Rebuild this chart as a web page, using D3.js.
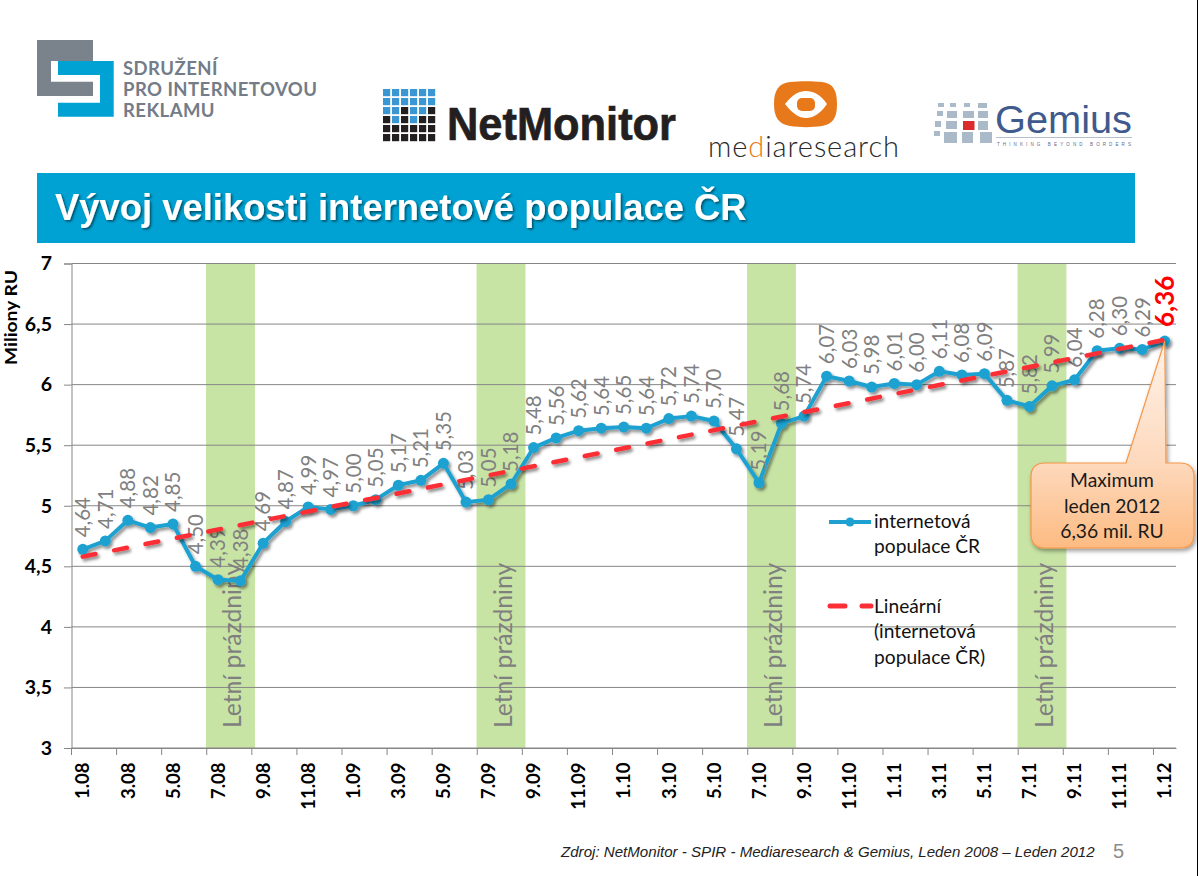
<!DOCTYPE html>
<html>
<head>
<meta charset="utf-8">
<script src="https://cdn.jsdelivr.net/npm/d3@7"></script>
<style>
  html, body { margin: 0; padding: 0; background: #fff; }
  svg { display: block; }
  text { font-family: Lato, sans-serif; }
</style>
</head>
<body>
<div id="chart"></div>
<script>
// chart data
var months = ["1.08","2.08","3.08","4.08","5.08","6.08","7.08","8.08","9.08","10.08","11.08","12.08",
  "1.09","2.09","3.09","4.09","5.09","6.09","7.09","8.09","9.09","10.09","11.09","12.09",
  "1.10","2.10","3.10","4.10","5.10","6.10","7.10","8.10","9.10","10.10","11.10","12.10",
  "1.11","2.11","3.11","4.11","5.11","6.11","7.11","8.11","9.11","10.11","11.11","12.11","1.12"];
var population = [4.64,4.71,4.88,4.82,4.85,4.50,4.39,4.38,4.69,4.87,4.99,4.97,
  5.00,5.05,5.17,5.21,5.35,5.03,5.05,5.18,5.48,5.56,5.62,5.64,
  5.65,5.64,5.72,5.74,5.70,5.47,5.19,5.68,5.74,6.07,6.03,5.98,
  6.01,6.00,6.11,6.08,6.09,5.87,5.82,5.99,6.04,6.28,6.30,6.29,6.36];
var trendMonths = ["1.08","1.12"];
var trendValues = [4.58,6.37];
var xTickLabels = ["1.08","3.08","5.08","7.08","9.08","11.08","1.09","3.09","5.09","7.09","9.09","11.09",
  "1.10","3.10","5.10","7.10","9.10","11.10","1.11","3.11","5.11","7.11","9.11","11.11","1.12"];
var yTicks = [3,3.5,4,4.5,5,5.5,6,6.5,7];
var holidayMonths = ["7.08","7.09","7.10","7.11"];

var svgWidth = 1198;
var svgHeight = 876;
var chartMargin = { top: 263.5, right: 22, bottom: 128, left: 71.5 };
var chartWidth = svgWidth - chartMargin.left - chartMargin.right;
var chartHeight = svgHeight - chartMargin.top - chartMargin.bottom;

var blue = "#1ea1d1";
var red = "#fb2f36";
var gridGray = "#868686";

var svg = d3.select("#chart").append("svg")
  .attr("width", svgWidth)
  .attr("height", svgHeight);

var defs = svg.append("defs");

function addShadow(id, dx, dy, blur, opacity) {
  defs.append("filter").attr("id", id)
    .attr("x", "-10%").attr("y", "-10%").attr("width", "120%").attr("height", "130%")
    .append("feDropShadow")
    .attr("dx", dx).attr("dy", dy).attr("stdDeviation", blur)
    .attr("flood-color", "#000").attr("flood-opacity", opacity);
}
addShadow("lineShadow", 2, 2.5, 1.5, 0.45);
addShadow("titleShadow", 1.5, 1.5, 0.8, 0.55);
addShadow("boxShadow", 1.5, 2.5, 2, 0.4);

var boxFill = defs.append("linearGradient").attr("id", "boxFill")
  .attr("gradientUnits", "userSpaceOnUse")
  .attr("x1", 0).attr("x2", 0).attr("y1", 341).attr("y2", 548);
boxFill.append("stop").attr("offset", "0%").attr("stop-color", "#fff3ea");
boxFill.append("stop").attr("offset", "60%").attr("stop-color", "#fdd8bb");
boxFill.append("stop").attr("offset", "100%").attr("stop-color", "#fdbb82");

// thin black strip on the right edge of the slide
svg.append("rect").attr("x", 1197).attr("y", 0).attr("width", 1).attr("height", svgHeight)
  .attr("fill", "#000");

/* ---- logos ---- */
var logos = svg.append("g");

logos.append("path").attr("fill", "#7a828c")
  .attr("d", "M37,40H93V61H51V81.7H93V96H37Z");
logos.append("path").attr("fill", "#00a2d3")
  .attr("d", "M58,61H113.7V116.7H58V102.7H100V75H58Z");
[["SDRUŽENÍ", 75], ["PRO INTERNETOVOU", 96], ["REKLAMU", 117]].forEach(function (l) {
  logos.append("text").attr("x", 123).attr("y", l[1])
    .attr("font-size", 18.5).attr("font-weight", 700).attr("fill", "#737c87")
    .attr("letter-spacing", 0.45)
    .text(l[0]);
});

// NetMonitor grid, 1 = blue
var netGrid = [
  [1,1,1,1,1,1],
  [1,1,1,1,1,1],
  [1,1,0,1,1,0],
  [0,1,0,1,0,0],
  [0,0,0,0,0,0],
  [0,0,0,0,0,0]
];
netGrid.forEach(function (row, r) {
  row.forEach(function (c, i) {
    logos.append("rect")
      .attr("x", 383 + i * 9).attr("y", 89 + r * 9)
      .attr("width", 7.2).attr("height", 7.2)
      .attr("fill", c ? "#3a97d3" : "#231f20");
  });
});
logos.append("text").attr("x", 447).attr("y", 140)
  .attr("font-size", 46).attr("font-weight", 700).attr("fill", "#231f20")
  .attr("stroke", "#231f20").attr("stroke-width", 0.7)
  .style("font-family", "'Liberation Sans'")
  .attr("textLength", 229).attr("lengthAdjust", "spacingAndGlyphs")
  .text("NetMonitor");

// mediaresearch
logos.append("path").attr("fill", "#e8791a")
  .attr("d", "M790,82C800,81 812,81 822,82C833,83 837,90 837,104C837,118 833,124 822,126C812,127.5 800,127.5 790,126C779,124 774,118 774,104C774,90 779,83 790,82Z");
logos.append("path").attr("fill", "#fff")
  .attr("d", "M785,104C793,94 799,91 806,91C813,91 820,94 827,104C820,114 813,118 806,118C799,118 793,114 785,104Z");
logos.append("rect").attr("x", 797).attr("y", 98).attr("width", 18).attr("height", 13)
  .attr("rx", 5).attr("fill", "#e8791a");
var mediaText = logos.append("text").attr("x", 708).attr("y", 157)
  .attr("font-size", 29).attr("font-weight", 300).attr("fill", "#2a2a2a")
  .attr("textLength", 191).attr("lengthAdjust", "spacing");
mediaText.append("tspan").text("me");
mediaText.append("tspan").attr("fill", "#e8791a").text("d");
mediaText.append("tspan").text("iaresearch");

// Gemius tiles [x, y, w, h]
var gemiusTiles = [
  [938,103,6,4],[950,103,6,4],[964,103,6,4],[978,103,9,5],
  [937,111,6,5],[947,111,10,7],[963,111,11,7],[978,111,10,7],
  [935,121,6,6],[946,121,11,8],[978,121,10,9],
  [934,131,6,5],[944,132,13,11],[962,132,11,11],[980,132,12,11]
];
gemiusTiles.forEach(function (t) {
  logos.append("rect").attr("x", t[0]).attr("y", t[1]).attr("width", t[2]).attr("height", t[3])
    .attr("fill", "#abbac8");
});
logos.append("rect").attr("x", 963).attr("y", 121).attr("width", 11.5).attr("height", 9)
  .attr("fill", "#d92b2b");
logos.append("text").attr("x", 995).attr("y", 133)
  .attr("font-size", 38).attr("fill", "#3f5a8c")
  .style("font-family", "'Liberation Sans'")
  .attr("textLength", 137).attr("lengthAdjust", "spacingAndGlyphs")
  .text("Gemius");
logos.append("rect").attr("x", 996).attr("y", 137).attr("width", 136).attr("height", 1)
  .attr("fill", "#b5bfd0");
logos.append("text").attr("x", 997).attr("y", 145.5)
  .attr("font-size", 4.5).attr("fill", "#5a6a8c")
  .style("font-family", "'Liberation Sans'")
  .attr("textLength", 134).attr("lengthAdjust", "spacing")
  .text("THINKING BEYOND BORDERS");

/* ---- title band ---- */
svg.append("rect").attr("x", 37).attr("y", 173).attr("width", 1098).attr("height", 70)
  .attr("fill", "#00a2d3");
svg.append("text").attr("x", 55).attr("y", 220)
  .attr("font-size", 36.4).attr("font-weight", 700).attr("fill", "#fff")
  .attr("filter", "url(#titleShadow)")
  .style("font-family", "'Liberation Sans'")
  .text("Vývoj velikosti internetové populace ČR");

/* ---- chart ---- */
var chartGroup = svg.append("g")
  .attr("transform", `translate(${chartMargin.left}, ${chartMargin.top})`);

var x = d3.scaleBand().domain(months).range([0, chartWidth]);
var y = d3.scaleLinear().domain([3, 7]).range([chartHeight, 0]);

// green bands sit under the grid lines
chartGroup.append("g").selectAll("rect")
  .data(holidayMonths).enter().append("rect")
  .attr("x", d => x(d) - 0.7)
  .attr("y", 0)
  .attr("width", x.step() * 2.17)
  .attr("height", chartHeight)
  .attr("fill", "#c8e4a5");

chartGroup.append("g").selectAll("line")
  .data(yTicks).enter().append("line")
  .attr("x1", 0).attr("x2", chartWidth)
  .attr("y1", d => y(d)).attr("y2", d => y(d))
  .attr("stroke", gridGray).attr("stroke-width", 1);

var xAxis = chartGroup.append("g")
  .attr("transform", `translate(0, ${chartHeight})`)
  .call(d3.axisBottom(x).tickValues(xTickLabels).tickSize(7).tickPadding(0).tickSizeOuter(0));
xAxis.select(".domain").attr("stroke", gridGray);
xAxis.selectAll(".tick line")
  .attr("stroke", gridGray)
  .attr("transform", `translate(${-x.step() / 2}, 0)`);
xAxis.selectAll(".tick text")
  .attr("transform", "rotate(-90)")
  .attr("x", -14.5).attr("y", 0).attr("dy", "0.36em")
  .attr("text-anchor", "end")
  .attr("fill", "#000")
  .style("font-family", "Lato").style("font-size", "18.5px").style("font-weight", 700);

var yAxis = chartGroup.append("g")
  .call(d3.axisLeft(y).tickValues(yTicks).tickSize(7.5).tickPadding(12)
    .tickFormat(d => String(d).replace(".", ",")));
yAxis.select(".domain").attr("stroke", gridGray);
yAxis.selectAll(".tick line").attr("stroke", gridGray);
yAxis.selectAll(".tick text")
  .attr("fill", "#000")
  .style("font-family", "Lato").style("font-size", "19.5px").style("font-weight", 700);

svg.append("text")
  .attr("transform", "translate(17, 317.5) rotate(-90)")
  .attr("text-anchor", "middle")
  .attr("font-size", 17).attr("font-weight", 700).attr("fill", "#000")
  .attr("textLength", 95).attr("lengthAdjust", "spacingAndGlyphs")
  .text("Miliony RU");

// holiday captions
chartGroup.append("g").selectAll("text")
  .data(holidayMonths).enter().append("text")
  .attr("transform", d => `translate(${x(d) + x.step() * 1.13}, ${chartHeight - 20}) rotate(-90)`)
  .attr("dy", "0.36em")
  .attr("font-size", 24.7).attr("fill", "#7f7f7f")
  .text("Letní prázdniny");

var pointX = d => x(d) + x.bandwidth() / 2;

// population series
var series = chartGroup.append("g").attr("filter", "url(#lineShadow)");
var valueLine = d3.line().x((d, i) => pointX(months[i])).y(d => y(d));
series.append("path")
  .datum(population)
  .attr("d", valueLine)
  .attr("fill", "none").attr("stroke", blue).attr("stroke-width", 4)
  .attr("stroke-linejoin", "round");
series.selectAll("circle")
  .data(population).enter().append("circle")
  .attr("cx", (d, i) => pointX(months[i]))
  .attr("cy", d => y(d))
  .attr("r", 5.5)
  .attr("fill", blue);

// value labels
chartGroup.append("g").selectAll("text")
  .data(population).enter().append("text")
  .attr("transform", (d, i) => `translate(${pointX(months[i])}, ${y(d) - (i === months.length - 1 ? 14 : 12)}) rotate(-90)`)
  .attr("dy", "0.36em")
  .attr("font-size", (d, i) => i === months.length - 1 ? 26 : 20.5)
  .attr("font-weight", (d, i) => i === months.length - 1 ? 700 : 400)
  .attr("fill", (d, i) => i === months.length - 1 ? "#ff0000" : "#808080")
  .text(d => d.toFixed(2).replace(".", ","));

// trend goes over the series and the labels
var trendLine = d3.line().x(d => pointX(d[0])).y(d => y(d[1]));
chartGroup.append("path")
  .datum(d3.zip(trendMonths, trendValues))
  .attr("d", trendLine)
  .attr("fill", "none").attr("stroke", red).attr("stroke-width", 4.5)
  .attr("stroke-linecap", "round").attr("stroke-dasharray", "13 19")
  .attr("filter", "url(#lineShadow)");

// callout, tip sits on the last point
var lastX = chartMargin.left + pointX(months[months.length - 1]);
var lastY = chartMargin.top + y(population[population.length - 1]);
svg.append("path")
  .attr("d", `M${lastX},${lastY}L1166,463H1180Q1194,463 1194,477V534Q1194,548 1180,548H1045Q1031,548 1031,534V477Q1031,463 1045,463H1126Z`)
  .attr("fill", "url(#boxFill)")
  .attr("stroke", "#f79646").attr("stroke-width", 1.2)
  .attr("filter", "url(#boxShadow)");
[["Maximum", 487], ["leden 2012", 513], ["6,36 mil. RU", 538]].forEach(function (l) {
  svg.append("text").attr("x", 1112).attr("y", l[1])
    .attr("text-anchor", "middle").attr("font-size", 19.3).attr("fill", "#1a1a1a")
    .text(l[0]);
});

/* ---- legend ---- */
var legend = svg.append("g");
legend.append("line").attr("x1", 829).attr("x2", 871).attr("y1", 522).attr("y2", 522)
  .attr("stroke", blue).attr("stroke-width", 4);
legend.append("circle").attr("cx", 850).attr("cy", 522).attr("r", 4.5).attr("fill", blue);
legend.append("line").attr("x1", 830).attr("x2", 871).attr("y1", 606).attr("y2", 606)
  .attr("stroke", red).attr("stroke-width", 5)
  .attr("stroke-linecap", "round").attr("stroke-dasharray", "15 17");
[["internetová", 528], ["populace ČR", 553], ["Lineární", 613], ["(internetová", 638], ["populace ČR)", 664]].forEach(function (l) {
  legend.append("text").attr("x", 874).attr("y", l[1])
    .attr("font-size", 19.2).attr("fill", "#111")
    .text(l[0]);
});

/* ---- footer ---- */
svg.append("text").attr("x", 561).attr("y", 857)
  .attr("font-size", 15.1).attr("font-style", "italic").attr("fill", "#222")
  .style("font-family", "'Liberation Sans'")
  .text("Zdroj: NetMonitor - SPIR - Mediaresearch & Gemius, Leden 2008 – Leden 2012");
svg.append("text").attr("x", 1113).attr("y", 858)
  .attr("font-size", 20).attr("fill", "#8c8c8c")
  .style("font-family", "'Liberation Sans'")
  .text("5");
</script>
</body>
</html>
